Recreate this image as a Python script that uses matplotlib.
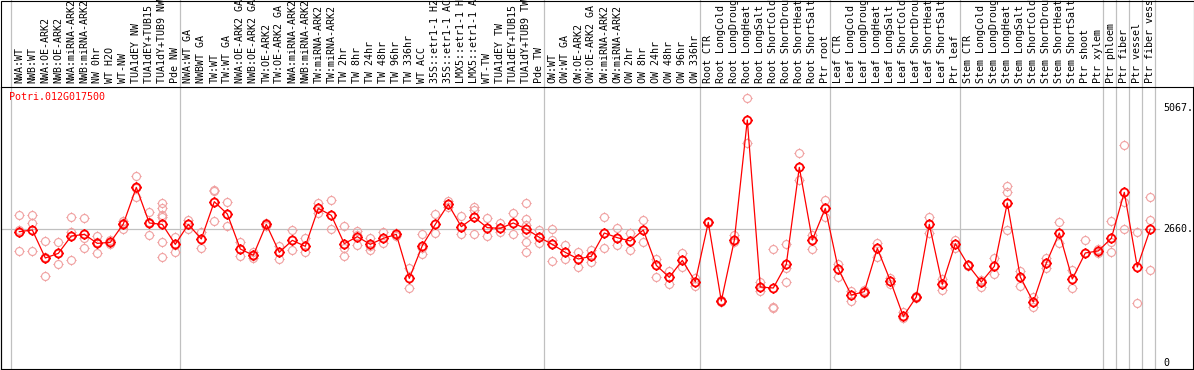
import matplotlib
matplotlib.use("Agg")
import matplotlib.pyplot as plt
from matplotlib.path import Path
from matplotlib.patches import Rectangle
from matplotlib.transforms import blended_transform_factory

gene = "Potri.012G017500"

labels = [
    "NWA:WT", "NWB:WT", "NWA:OE-ARK2", "NWB:OE-ARK2", "NWA:miRNA-ARK2",
    "NWB:miRNA-ARK2", "NW 0hr", "WT H2O", "WT-NW", "TUA1dEY NW",
    "TUA1dEY+TUB15 NW", "TUA1dY+TUB9 NW", "Pde NW",
    "NWA:WT GA", "NWBWT GA", "TW:WT", "TW:WT GA", "NWA:OE-ARK2 GA",
    "NWB:OE-ARK2 GA", "TW:OE-ARK2", "TW:OE-ARK2 GA", "NWA:miRNA-ARK2",
    "NWB:miRNA-ARK2", "TW:miRNA-ARK2", "TW:miRNA-ARK2", "TW 2hr", "TW 8hr",
    "TW 24hr", "TW 48hr", "TW 96hr", "TW 336hr", "WT ACC",
    "35S::etr1-1 H2O", "35S::etr1-1 ACC", "LMX5::etr1-1 H2O",
    "LMX5::etr1-1 ACC", "WT-TW", "TUA1dEY TW", "TUA1dEY+TUB15 TW",
    "TUA1dY+TUB9 TW", "Pde TW",
    "OW:WT", "OW:WT GA", "OW:OE-ARK2", "OW:OE-ARK2 GA", "OW:miRNA-ARK2",
    "OW:miRNA-ARK2", "OW 2hr", "OW 8hr", "OW 24hr", "OW 48hr", "OW 96hr",
    "OW 336hr",
    "Root CTR", "Root LongCold", "Root LongDrought", "Root LongHeat",
    "Root LongSalt", "Root ShortCold", "Root ShortDrought", "Root ShortHeat",
    "Root ShortSalt", "Ptr root",
    "Leaf CTR", "Leaf LongCold", "Leaf LongDrought", "Leaf LongHeat",
    "Leaf LongSalt", "Leaf ShortCold", "Leaf ShortDrought", "Leaf ShortHeat",
    "Leaf ShortSalt", "Ptr leaf",
    "Stem CTR", "Stem LongCold", "Stem LongDrought", "Stem LongHeat",
    "Stem LongSalt", "Stem ShortCold", "Stem ShortDrought", "Stem ShortHeat",
    "Stem ShortSalt", "Ptr shoot", "Ptr xylem",
    "Ptr phloem", "Ptr fiber", "Ptr vessel", "Ptr fiber vessel",
]

means = [
    2606, 2640, 2083, 2175, 2520, 2553, 2374, 2394, 2759, 3488, 2779, 2752, 2354,
    2752, 2461, 3203, 2958, 2262, 2136, 2752, 2195, 2434, 2315, 3071, 2931, 2368,
    2507, 2354, 2474, 2553, 1678, 2328, 2752, 3150, 2706, 2892, 2686, 2673, 2779,
    2659, 2494,
    2354, 2195, 2063, 2116, 2580, 2487, 2421, 2640, 1937, 1698, 2036, 1612,
    2792, 1227, 2434, 4828, 1506, 1486, 1957, 3886, 2441, 3071,
    1864, 1346, 1413, 2275, 1632, 922, 1307, 2752, 1559, 2368,
    1937, 1605, 1917, 3177, 1705, 1208, 1983, 2580, 1665, 2183, 2223,
    2474, 3389, 1903, 2659,
]

replicates = [
    [2938, 2640, 2222], [2938, 2772, 2222], [2421, 2100, 1724], [2394, 2175, 1957],
    [2892, 2606, 2043], [2872, 2474, 2275], [2520, 2400, 2175], [2440, 2360, 2400],
    [2819, 2659, 2780], [3714, 3289, 3470], [2991, 2540, 2800],
    [3170, 3071, 2938, 2905, 2394, 2096], [2507, 2209, 2350],
    [2839, 2659], [2606, 2288], [3435, 3415, 2819], [3190, 2719], [2394, 2129],
    [2209, 2076, 2130], [2780, 2720], [2328, 2063], [2640, 2242], [2474, 2195],
    [3170, 2971], [3230, 2659], [2712, 2275, 2129], [2626, 2341, 2550],
    [2487, 2248, 2330], [2606, 2374], [2580, 2530], [1877, 1479],
    [2553, 2156, 2280], [2951, 2573], [3217, 3100], [2918, 2553],
    [3104, 3037, 2553], [2872, 2527], [2772, 2606], [2971, 2553],
    [3170, 2858, 2740, 2573, 2408, 2209], [2640, 2374],
    [2659, 2441, 2023], [2341, 2063], [2195, 1910], [2242, 1996], [2892, 2275],
    [2673, 2341], [2573, 2242], [2839, 2394], [2063, 1698], [1824, 1559],
    [2175, 1910], [1691, 1532],
    [2800, 2780], [1250, 1200], [2540, 2400], [5259, 4364], [1612, 1426],
    [2255, 1110, 1094], [2354, 1890, 1598], [4165, 3634], [2540, 2255],
    [3236, 2905],
    [1963, 1698], [1426, 1234], [1440, 1380], [2388, 2109], [1690, 1560],
    [1002, 882], [1320, 1295], [2905, 2573], [1665, 1453], [2441, 2275],
    [1950, 1925], [1650, 1499], [2089, 1758], [3511, 3392, 2630], [1825, 1526],
    [1308, 1109], [2089, 1884], [2797, 2380], [1840, 1490], [2442, 2183],
    [2260, 2190],
    [2819, 2408, 2195], [4324, 3203, 2653], [2606, 1181], [3296, 2839, 1837],
]

# group boundaries (index of first column in each block)
group_starts = [0, 13, 41, 53, 63, 73, 84, 85, 86, 87, 88]
ref_line = 2660
ytick_vals = [0, 2660, 5067]
ytick_text = ["0", "2660.", "5067."]

W, H = 1194, 370
fig = plt.figure(figsize=(W / 100, H / 100), dpi=100)
ax = fig.add_axes([1 / W, 1 / H, 1192 / W, 282 / H])
x0 = -18.3 / 13
ax.set_xlim(x0, x0 + 1192 / 13)
ax.set_ylim(-125, 5484)
ax.set_xticks([])
ax.set_yticks([])
for s in ax.spines.values():
    s.set_linewidth(0.8)

# circle marker with small nubs
nubs = Path([[0, 1], [0, 1.3], [0, -1], [0, -1.3], [1, 0], [1.3, 0], [-1, 0], [-1.3, 0]],
            [Path.MOVETO, Path.LINETO] * 4)
ring = Path.make_compound_path(Path.unit_circle(), nubs)

gray = "#c0c0c0"
fig_x = blended_transform_factory(ax.transData, fig.transFigure)
for g in group_starts:
    ax.plot([g - 0.615, g - 0.615], [0, 1], transform=fig_x, color=gray,
            lw=0.9, clip_on=False, zorder=0)
ax.plot([x0, 87.7], [ref_line, ref_line], color=gray, lw=0.9, zorder=0)

xs, ys = [], []
for i, r in enumerate(replicates):
    xs += [i] * len(r)
    ys += r
ax.plot(xs, ys, ls="none", marker=ring, ms=7.4, mfc="none", mec="#f0a0a0", mew=0.8)
ax.plot(range(len(means)), means, color="red", lw=0.9, marker=ring, ms=7.4,
        mfc="none", mec="red", mew=1.3)

mono = "DejaVu Sans Mono"
for i, lab in enumerate(labels):
    ax.text(i, (H - 83) / H, lab, transform=fig_x, rotation=90, ha="center",
            va="bottom", fontsize=7.2, family=mono, clip_on=False)

ax.text(8.5 / W, (H - 97) / H, gene, transform=fig.transFigure, color="red",
        fontsize=7.2, family=mono, va="center", ha="left")

ax_y = blended_transform_factory(fig.transFigure, ax.transData)
for v, t in zip(ytick_vals, ytick_text):
    ax.text(1163 / W, v, t, transform=ax_y, fontsize=7.2, family=mono,
            va="center", ha="left")

# outer frame and label separator
fig.add_artist(Rectangle((0.5 / W, 0.5 / H), (W - 1) / W, (H - 1) / H,
                         transform=fig.transFigure, fill=False, ec="black", lw=0.8))

fig.savefig("out.png", dpi=100)
